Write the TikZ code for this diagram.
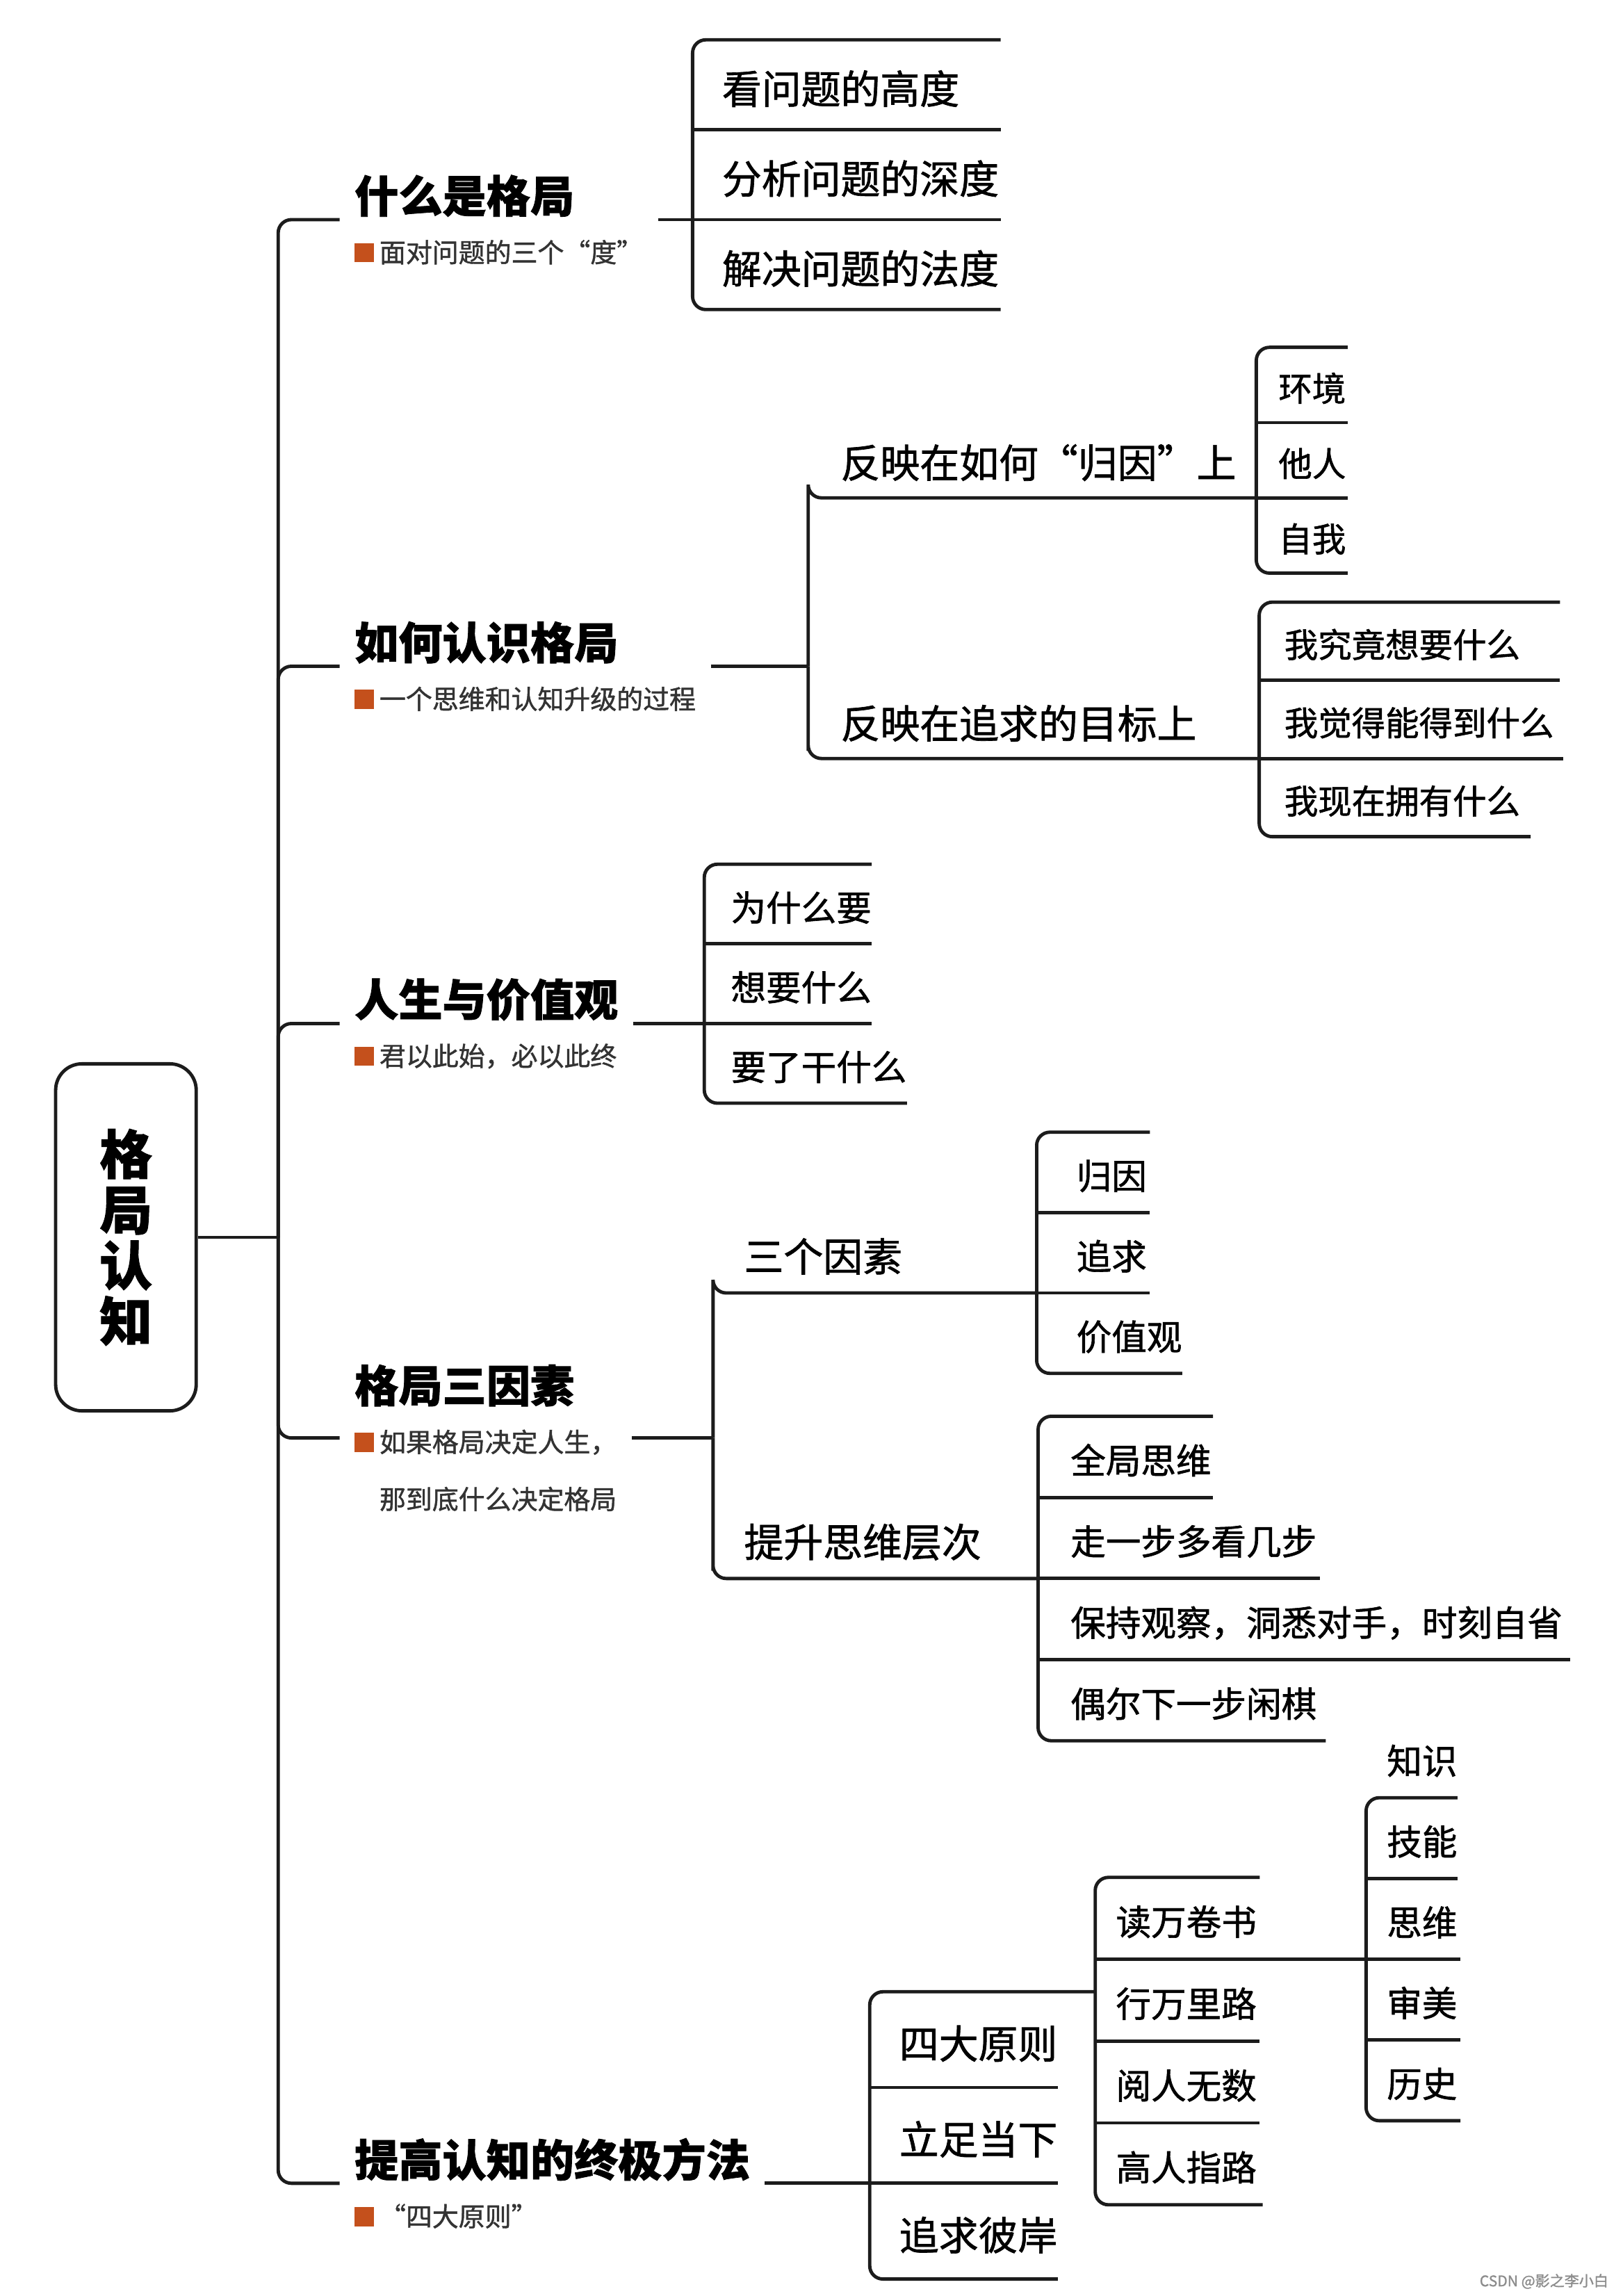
\documentclass[tikz,border=0pt]{standalone}
\usepackage{fontspec}
\usepackage{tikz}
\usetikzlibrary{positioning}
\setmainfont{Noto Sans CJK SC}[RawFeature={embolden=1.2}]
\definecolor{inkline}{HTML}{1C1C1C}
\definecolor{tagred}{HTML}{C4501C}
\definecolor{subgray}{HTML}{333333}
\newcommand{\tagsq}{\textcolor{tagred}{\rule{13pt}{13pt}}\hspace{4pt}}
\newcommand{\ttl}[1]{{\fontsize{30pt}{34pt}\selectfont\bfseries\color{black}#1}}
\tikzset{
  conn/.style={draw=inkline, line width=2.3pt, rounded corners=9pt},
  lvl/.style={font=\fontsize{#1pt}{#1pt}\selectfont, text height=.98*#1pt, text depth=.02*#1pt},
  rootbox/.style={draw=inkline, line width=2.3pt, rounded corners=18pt, minimum width=96pt, minimum height=237pt, align=center, font=\fontsize{36pt}{38pt}\selectfont\bfseries},
  topic/.style={anchor=west, inner xsep=10pt, align=left, text=subgray, font=\fontsize{18pt}{34pt}\selectfont},
  midtopic/.style={anchor=south west, inner xsep=22pt, inner ysep=13pt, lvl=27},
  cell/.style={anchor=south west, text width=#1, align=left, inner sep=0pt},
  lpad/.style={execute at begin node={\noindent\hspace*{#1}}}
}

\begin{document}
\begin{tikzpicture}[x=1pt, y=-1pt]
  \useasboundingbox[fill=white] (0,0) rectangle (1108,1568);

  % centre and trunk
  \node[rootbox] (root) at (86,845) {格\\局\\认\\知};
  \coordinate (trunk) at (190,845);

  \node[topic] (h1) at (232,150) {\ttl{什么是格局}\\\tagsq 面对问题的三个“度”};
  \node[topic] (h2) at (232,455) {\ttl{如何认识格局}\\\tagsq 一个思维和认知升级的过程};
  \node[topic] (h3) at (232,699) {\ttl{人生与价值观}\\\tagsq 君以此始，必以此终};
  \node[topic] (h4) at (232,982) {\ttl{格局三因素}\\\tagsq 如果格局决定人生，\\[5pt]\hspace*{17pt}那到底什么决定格局};
  \node[topic] (h5) at (232,1491) {\ttl{提高认知的终极方法}\\\tagsq “四大原则”};

  \draw[conn] (root.east) -- (trunk);
  \foreach \h in {h1,h2,h3,h4,h5}
    \draw[conn] (trunk) |- (\h.west);

  % 什么是格局
  \begin{scope}[every node/.append style={lvl=27, minimum height=61pt, lpad=20pt}]
    \node[cell=210pt] (a2) at (473,150) {分析问题的深度};
    \node[cell=210pt] (a1) at (a2.north west) {看问题的高度};
    \node[cell=210pt, anchor=north west] (a3) at (a2.south west) {解决问题的法度};
  \end{scope}
  \draw[conn] (h1.east) -- (a2.south west);
  \draw[conn] (a1.north east) -- (a1.north west) -- (a3.south west) -- (a3.south east);
  \foreach \c in {a1,a2} \draw[conn] (\c.south west) -- (\c.south east);

  % 如何认识格局
  \coordinate (j2) at (552,455);
  \node[midtopic] (m1) at (552,340) {反映在如何“归因”上};
  \node[midtopic] (m2) at (552,518) {反映在追求的目标上};
  \begin{scope}[every node/.append style={lvl=23, minimum height=51pt, lpad=15pt}]
    \node[cell=62pt] (b2) at (858,340) {他人};
    \node[cell=62pt] (b1) at (b2.north west) {环境};
    \node[cell=62pt, anchor=north west] (b3) at (b2.south west) {自我};
  \end{scope}
  \begin{scope}[every node/.append style={lvl=23, minimum height=53pt, lpad=17pt}]
    \node[cell=207pt] (c2) at (860,518) {我觉得能得到什么};
    \node[cell=205pt] (c1) at (c2.north west) {我究竟想要什么};
    \node[cell=185pt, anchor=north west] (c3) at (c2.south west) {我现在拥有什么};
  \end{scope}
  \draw[conn] (h2.east) -- (j2);
  \draw[conn] (j2) |- (m1.south west) -- (b2.south west);
  \draw[conn] (j2) |- (m2.south west) -- (c2.south west);
  \draw[conn] (b1.north east) -- (b1.north west) -- (b3.south west) -- (b3.south east);
  \draw[conn] (c1.north east) -- (c1.north west) -- (c3.south west) -- (c3.south east);
  \foreach \c in {b1,b2,c1,c2} \draw[conn] (\c.south west) -- (\c.south east);

  % 人生与价值观
  \begin{scope}[every node/.append style={lvl=24, minimum height=54pt, lpad=18pt}]
    \node[cell=114pt] (d2) at (481,699) {想要什么};
    \node[cell=114pt] (d1) at (d2.north west) {为什么要};
    \node[cell=138pt, anchor=north west] (d3) at (d2.south west) {要了干什么};
  \end{scope}
  \draw[conn] (h3.east) -- (d2.south west);
  \draw[conn] (d1.north east) -- (d1.north west) -- (d3.south west) -- (d3.south east);
  \foreach \c in {d1,d2} \draw[conn] (\c.south west) -- (\c.south east);

  % 格局三因素
  \coordinate (j4) at (487,982);
  \node[midtopic, inner xsep=21pt, inner ysep=14pt] (m3) at (487,883) {三个因素};
  \node[midtopic, inner xsep=21pt, inner ysep=14pt] (m4) at (487,1078) {提升思维层次};
  \begin{scope}[every node/.append style={lvl=24, minimum height=54.5pt, lpad=27pt}]
    \node[cell=77pt] (e2) at (708,883) {追求};
    \node[cell=77pt] (e1) at (e2.north west) {归因};
    \node[cell=99pt, anchor=north west] (e3) at (e2.south west) {价值观};
  \end{scope}
  \begin{scope}[every node/.append style={lvl=24, minimum height=55pt, lpad=22pt}]
    \node[cell=192pt] (f2) at (709,1078) {走一步多看几步};
    \node[cell=119pt] (f1) at (f2.north west) {全局思维};
    \node[cell=363pt, anchor=north west] (f3) at (f2.south west) {保持观察，洞悉对手，时刻自省};
    \node[cell=196pt, anchor=north west] (f4) at (f3.south west) {偶尔下一步闲棋};
  \end{scope}
  \draw[conn] (h4.east) -- (j4);
  \draw[conn] (j4) |- (m3.south west) -- (e2.south west);
  \draw[conn] (j4) |- (m4.south west) -- (f2.south west);
  \draw[conn] (e1.north east) -- (e1.north west) -- (e3.south west) -- (e3.south east);
  \draw[conn] (f1.north east) -- (f1.north west) -- (f4.south west) -- (f4.south east);
  \foreach \c in {e1,e2,f1,f2,f3} \draw[conn] (\c.south west) -- (\c.south east);

  % 提高认知的终极方法
  \begin{scope}[every node/.append style={lvl=27, minimum height=65pt, lpad=20pt}]
    \node[cell=128pt] (g2) at (594,1491) {立足当下};
    \node[cell=128pt] (g1) at (g2.north west) {四大原则};
    \node[cell=128pt, anchor=north west] (g3) at (g2.south west) {追求彼岸};
  \end{scope}
  \begin{scope}[every node/.append style={lvl=24, minimum height=55.5pt, lpad=14pt}]
    \node[cell=112pt] (k1) at (748,1338) {读万卷书};
    \node[cell=112pt, anchor=north west] (k2) at (k1.south west) {行万里路};
    \node[cell=112pt, anchor=north west] (k3) at (k2.south west) {阅人无数};
    \node[cell=114pt, anchor=north west] (k4) at (k3.south west) {高人指路};
  \end{scope}
  \begin{scope}[every node/.append style={lvl=24, minimum height=54.75pt, lpad=14pt}]
    \node[cell=64pt] (l3) at (933,1338) {思维};
    \node[cell=62pt] (l2) at (l3.north west) {技能};
    \node[cell=62pt] (l1) at (l2.north west) {知识};
    \node[cell=64pt, anchor=north west] (l4) at (l3.south west) {审美};
    \node[cell=64pt, anchor=north west] (l5) at (l4.south west) {历史};
  \end{scope}
  \draw[conn] (h5.east) -- (g2.south west);
  \draw[conn] (g1.north east -| k1.west) -- (g1.north west) -- (g3.south west) -- (g3.south east);
  \draw[conn] (k1.north east) -- (k1.north west) -- (k4.south west) -- (k4.south east);
  \draw[conn] (k1.south west) -- (l3.south west);
  \draw[conn] (l1.south east) -- (l1.south west) -- (l5.south west) -- (l5.south east);
  \foreach \c in {g1,g2,k2,k3,l2,l3,l4} \draw[conn] (\c.south west) -- (\c.south east);

  \node[anchor=east, text=black!45, font=\fontsize{10pt}{10pt}\selectfont] (mark) at (1102,1558) {CSDN @影之李小白};
\end{tikzpicture}
\end{document}
